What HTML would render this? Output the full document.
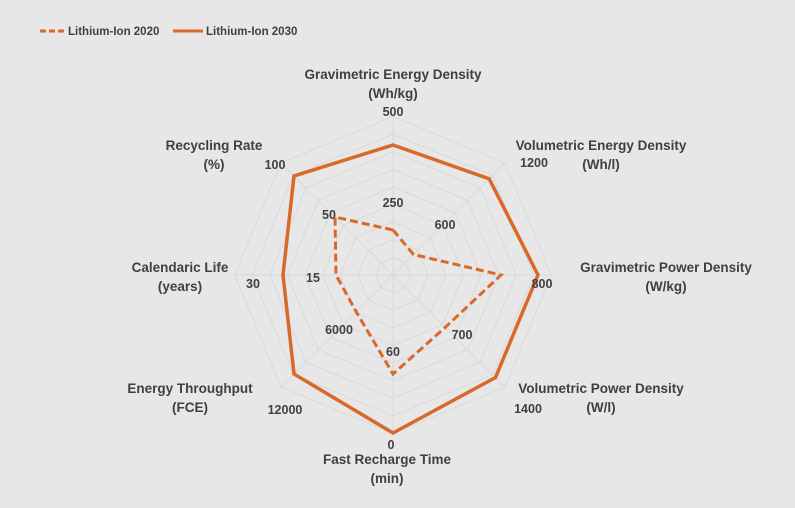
<!DOCTYPE html>
<html><head><meta charset="utf-8"><style>
body{margin:0;background:#e7e7e7}
svg{display:block;font-family:"Liberation Sans",sans-serif;font-weight:bold;fill:#404040}
</style></head><body>
<svg width="795" height="508" viewBox="0 0 795 508">
<rect width="795" height="508" fill="#e7e7e7"/>
<g id="grid" fill="none" stroke="#d9d9d9" stroke-width="1"></g>
<polygon id="s2030" fill="none" stroke="#d9692a" stroke-width="3.5" stroke-linejoin="miter"/>
<polygon id="s2020" fill="none" stroke="#d9692a" stroke-width="3" stroke-dasharray="8,4"/>
<line x1="40" y1="31" x2="66" y2="31" stroke="#d9692a" stroke-width="3" stroke-dasharray="6,3"/>
<text x="68" y="35" font-size="11.5">Lithium-Ion 2020</text>
<line x1="173" y1="31" x2="203" y2="31" stroke="#d9692a" stroke-width="3"/>
<text x="206" y="35" font-size="11.5">Lithium-Ion 2030</text>
<g font-size="13.5" text-anchor="middle">
<text x="393" y="79">Gravimetric Energy Density</text><text x="393" y="98">(Wh/kg)</text>
<text x="601" y="150">Volumetric Energy Density</text><text x="601" y="169">(Wh/l)</text>
<text x="666" y="272">Gravimetric Power Density</text><text x="666" y="291">(W/kg)</text>
<text x="601" y="393">Volumetric Power Density</text><text x="601" y="412">(W/l)</text>
<text x="387" y="464">Fast Recharge Time</text><text x="387" y="483">(min)</text>
<text x="190" y="393">Energy Throughput</text><text x="190" y="412">(FCE)</text>
<text x="180" y="272">Calendaric Life</text><text x="180" y="291">(years)</text>
<text x="214" y="150">Recycling Rate</text><text x="214" y="169">(%)</text>
</g>
<g font-size="12.5" text-anchor="middle">
<text x="393" y="116">500</text><text x="534" y="167">1200</text><text x="542" y="288">800</text>
<text x="528" y="413">1400</text><text x="391" y="449">0</text><text x="285" y="414">12000</text>
<text x="253" y="288">30</text><text x="275" y="169">100</text>
<text x="393" y="207">250</text><text x="445" y="229">600</text><text x="462" y="339">700</text>
<text x="393" y="356">60</text><text x="339" y="334">6000</text><text x="313" y="282">15</text><text x="329" y="219">50</text>
</g>
</svg>
<script>
var cx=393,cy=275;
function pts(rs){return rs.map(function(r,i){var a=-Math.PI/2+i*Math.PI/4;return (cx+r*Math.cos(a)).toFixed(1)+','+(cy+r*Math.sin(a)).toFixed(1)}).join(' ')}
var g=document.getElementById('grid'),s='';
for(var k=1;k<=9;k++){var r=k*17.6;s+='<polygon points="'+pts([r,r,r,r,r,r,r,r])+'"/>';}
for(var i=0;i<8;i++){var a=-Math.PI/2+i*Math.PI/4;s+='<line x1="'+cx+'" y1="'+cy+'" x2="'+(cx+158*Math.cos(a))+'" y2="'+(cy+158*Math.sin(a))+'"/>';}
g.innerHTML=s;
document.getElementById('s2030').setAttribute('points',pts([130,136,145,145,158,140,110,140]));
document.getElementById('s2020').setAttribute('points',pts([45,29,108,74,99,52,57,82]));
</script>
</body></html>
